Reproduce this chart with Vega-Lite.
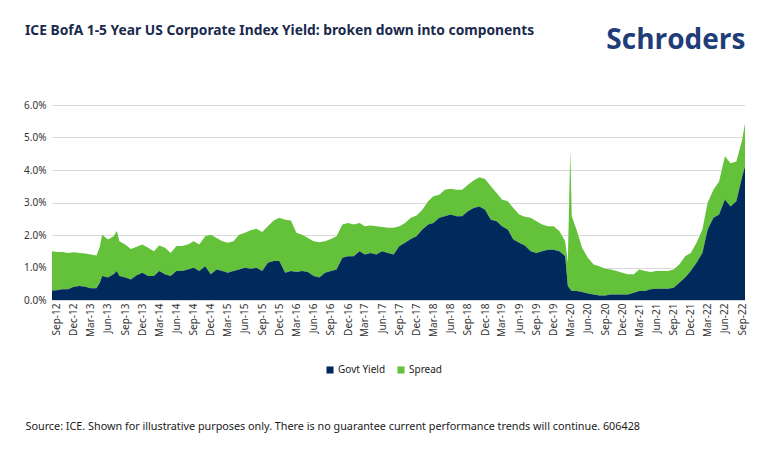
{
  "$schema": "https://vega.github.io/schema/vega-lite/v6.json",
  "width": 693,
  "height": 195,
  "autosize": {"type": "none"},
  "padding": {"left": 52, "top": 105, "right": 25, "bottom": 154},
  "background": "white",
  "config": {
    "view": {"stroke": null},
    "font": "Noto Sans"
  },
  "title": {
    "text": "ICE BofA 1-5 Year US Corporate Index Yield: broken down into components",
    "anchor": "start",
    "frame": "group",
    "dx": -27,
    "offset": 0,
    "dy": 12,
    "font": "Noto Sans",
    "fontSize": 13.8,
    "fontWeight": "bold",
    "color": "#1a2a4d"
  },
  "data": {
    "values": [
      {"d": "2012-08-07", "g": 0.29, "t": 1.50},
      {"d": "2012-09-01", "g": 0.30, "t": 1.48},
      {"d": "2012-10-01", "g": 0.33, "t": 1.48},
      {"d": "2012-11-01", "g": 0.33, "t": 1.45},
      {"d": "2012-12-01", "g": 0.41, "t": 1.47},
      {"d": "2013-01-01", "g": 0.43, "t": 1.45},
      {"d": "2013-02-01", "g": 0.41, "t": 1.43},
      {"d": "2013-03-01", "g": 0.36, "t": 1.40},
      {"d": "2013-04-01", "g": 0.36, "t": 1.37},
      {"d": "2013-04-19", "g": 0.53, "t": 1.65},
      {"d": "2013-05-01", "g": 0.74, "t": 2.01},
      {"d": "2013-06-01", "g": 0.69, "t": 1.86},
      {"d": "2013-07-01", "g": 0.79, "t": 1.96},
      {"d": "2013-07-19", "g": 0.89, "t": 2.12},
      {"d": "2013-08-01", "g": 0.74, "t": 1.81},
      {"d": "2013-09-01", "g": 0.69, "t": 1.71},
      {"d": "2013-10-01", "g": 0.63, "t": 1.57},
      {"d": "2013-11-01", "g": 0.76, "t": 1.64},
      {"d": "2013-12-01", "g": 0.84, "t": 1.71},
      {"d": "2014-01-01", "g": 0.74, "t": 1.61},
      {"d": "2014-02-01", "g": 0.74, "t": 1.50},
      {"d": "2014-03-01", "g": 0.89, "t": 1.68},
      {"d": "2014-04-01", "g": 0.79, "t": 1.61},
      {"d": "2014-05-01", "g": 0.74, "t": 1.45},
      {"d": "2014-06-01", "g": 0.89, "t": 1.66},
      {"d": "2014-07-01", "g": 0.89, "t": 1.66},
      {"d": "2014-08-01", "g": 0.94, "t": 1.71},
      {"d": "2014-09-01", "g": 0.99, "t": 1.81},
      {"d": "2014-10-01", "g": 0.89, "t": 1.71},
      {"d": "2014-11-01", "g": 1.04, "t": 1.96},
      {"d": "2014-12-01", "g": 0.79, "t": 2.01},
      {"d": "2015-01-01", "g": 0.94, "t": 1.91},
      {"d": "2015-02-01", "g": 0.89, "t": 1.81},
      {"d": "2015-03-01", "g": 0.84, "t": 1.76},
      {"d": "2015-04-01", "g": 0.89, "t": 1.81},
      {"d": "2015-05-01", "g": 0.94, "t": 2.01},
      {"d": "2015-06-01", "g": 0.99, "t": 2.07},
      {"d": "2015-07-01", "g": 0.96, "t": 2.15},
      {"d": "2015-08-01", "g": 0.99, "t": 2.19},
      {"d": "2015-09-01", "g": 0.89, "t": 2.09},
      {"d": "2015-10-01", "g": 1.15, "t": 2.27},
      {"d": "2015-11-01", "g": 1.20, "t": 2.45},
      {"d": "2015-12-01", "g": 1.20, "t": 2.53},
      {"d": "2016-01-01", "g": 0.84, "t": 2.47},
      {"d": "2016-02-01", "g": 0.89, "t": 2.45},
      {"d": "2016-03-01", "g": 0.86, "t": 2.07},
      {"d": "2016-04-01", "g": 0.89, "t": 2.01},
      {"d": "2016-05-01", "g": 0.86, "t": 1.91},
      {"d": "2016-06-01", "g": 0.74, "t": 1.81},
      {"d": "2016-07-01", "g": 0.69, "t": 1.78},
      {"d": "2016-08-01", "g": 0.84, "t": 1.81},
      {"d": "2016-09-01", "g": 0.89, "t": 1.88},
      {"d": "2016-10-01", "g": 0.94, "t": 1.96},
      {"d": "2016-11-01", "g": 1.30, "t": 2.32},
      {"d": "2016-12-01", "g": 1.35, "t": 2.37},
      {"d": "2017-01-01", "g": 1.35, "t": 2.32},
      {"d": "2017-02-01", "g": 1.50, "t": 2.37},
      {"d": "2017-03-01", "g": 1.40, "t": 2.27},
      {"d": "2017-04-01", "g": 1.45, "t": 2.29},
      {"d": "2017-05-01", "g": 1.40, "t": 2.27},
      {"d": "2017-06-01", "g": 1.50, "t": 2.25},
      {"d": "2017-07-01", "g": 1.45, "t": 2.22},
      {"d": "2017-08-01", "g": 1.40, "t": 2.22},
      {"d": "2017-09-01", "g": 1.66, "t": 2.27},
      {"d": "2017-10-01", "g": 1.76, "t": 2.37},
      {"d": "2017-11-01", "g": 1.88, "t": 2.53},
      {"d": "2017-12-01", "g": 1.96, "t": 2.60},
      {"d": "2018-01-01", "g": 2.17, "t": 2.78},
      {"d": "2018-02-01", "g": 2.32, "t": 3.04},
      {"d": "2018-03-01", "g": 2.37, "t": 3.19},
      {"d": "2018-04-01", "g": 2.53, "t": 3.24},
      {"d": "2018-05-01", "g": 2.58, "t": 3.39},
      {"d": "2018-06-01", "g": 2.63, "t": 3.42},
      {"d": "2018-07-01", "g": 2.58, "t": 3.39},
      {"d": "2018-08-01", "g": 2.58, "t": 3.39},
      {"d": "2018-09-01", "g": 2.73, "t": 3.55},
      {"d": "2018-10-01", "g": 2.83, "t": 3.68},
      {"d": "2018-11-01", "g": 2.88, "t": 3.78},
      {"d": "2018-12-01", "g": 2.78, "t": 3.72},
      {"d": "2019-01-01", "g": 2.47, "t": 3.50},
      {"d": "2019-02-01", "g": 2.42, "t": 3.29},
      {"d": "2019-03-01", "g": 2.27, "t": 3.09},
      {"d": "2019-04-01", "g": 2.17, "t": 3.04},
      {"d": "2019-05-01", "g": 1.86, "t": 2.83},
      {"d": "2019-06-01", "g": 1.76, "t": 2.63},
      {"d": "2019-07-01", "g": 1.68, "t": 2.56},
      {"d": "2019-08-01", "g": 1.50, "t": 2.53},
      {"d": "2019-09-01", "g": 1.45, "t": 2.42},
      {"d": "2019-10-01", "g": 1.50, "t": 2.32},
      {"d": "2019-11-01", "g": 1.55, "t": 2.27},
      {"d": "2019-12-01", "g": 1.55, "t": 2.27},
      {"d": "2020-01-01", "g": 1.50, "t": 2.12},
      {"d": "2020-02-01", "g": 1.35, "t": 1.81},
      {"d": "2020-02-15", "g": 0.43, "t": 1.15},
      {"d": "2020-02-28", "g": 0.33, "t": 4.62},
      {"d": "2020-03-07", "g": 0.28, "t": 2.58},
      {"d": "2020-04-01", "g": 0.28, "t": 2.17},
      {"d": "2020-05-01", "g": 0.25, "t": 1.61},
      {"d": "2020-06-01", "g": 0.20, "t": 1.30},
      {"d": "2020-07-01", "g": 0.17, "t": 1.09},
      {"d": "2020-08-01", "g": 0.14, "t": 1.04},
      {"d": "2020-09-01", "g": 0.14, "t": 0.96},
      {"d": "2020-10-01", "g": 0.17, "t": 0.94},
      {"d": "2020-11-01", "g": 0.17, "t": 0.89},
      {"d": "2020-12-01", "g": 0.17, "t": 0.84},
      {"d": "2021-01-01", "g": 0.17, "t": 0.79},
      {"d": "2021-02-01", "g": 0.22, "t": 0.79},
      {"d": "2021-03-01", "g": 0.28, "t": 0.94},
      {"d": "2021-04-01", "g": 0.28, "t": 0.89},
      {"d": "2021-05-01", "g": 0.33, "t": 0.86},
      {"d": "2021-06-01", "g": 0.35, "t": 0.89},
      {"d": "2021-07-01", "g": 0.35, "t": 0.89},
      {"d": "2021-08-01", "g": 0.35, "t": 0.89},
      {"d": "2021-09-01", "g": 0.38, "t": 0.94},
      {"d": "2021-10-01", "g": 0.53, "t": 1.09},
      {"d": "2021-11-01", "g": 0.69, "t": 1.35},
      {"d": "2021-12-01", "g": 0.89, "t": 1.45},
      {"d": "2022-01-01", "g": 1.15, "t": 1.76},
      {"d": "2022-02-01", "g": 1.45, "t": 2.17},
      {"d": "2022-03-01", "g": 2.17, "t": 2.99},
      {"d": "2022-04-01", "g": 2.53, "t": 3.39},
      {"d": "2022-05-01", "g": 2.63, "t": 3.65},
      {"d": "2022-06-01", "g": 3.09, "t": 4.42},
      {"d": "2022-07-01", "g": 2.88, "t": 4.21},
      {"d": "2022-08-01", "g": 3.04, "t": 4.26},
      {"d": "2022-09-01", "g": 3.80, "t": 4.93},
      {"d": "2022-09-16", "g": 4.11, "t": 5.44}
    ]
  },
  "encoding": {
    "x": {
      "field": "d",
      "type": "temporal",
      "scale": {
        "type": "utc",
        "domain": [
          {"year": 2012, "month": 8, "date": 7, "utc": true},
          {"year": 2022, "month": 9, "date": 16, "utc": true}
        ]
      },
      "axis": {
        "title": "Source: ICE. Shown for illustrative purposes only. There is no guarantee current performance trends will continue. 606428",
        "titleX": -27,
        "titleY": 129,
        "titleAlign": "left",
        "titleAnchor": null,
        "titleBaseline": "alphabetic",
        "titleFont": "Noto Sans",
        "titleFontSize": 10.8,
        "titleFontWeight": "normal",
        "titleColor": "#1a1a1a",
        "values": [
          {"year": 2012, "month": 9, "date": 1, "utc": true},
          {"year": 2012, "month": 12, "date": 1, "utc": true},
          {"year": 2013, "month": 3, "date": 1, "utc": true},
          {"year": 2013, "month": 6, "date": 1, "utc": true},
          {"year": 2013, "month": 9, "date": 1, "utc": true},
          {"year": 2013, "month": 12, "date": 1, "utc": true},
          {"year": 2014, "month": 3, "date": 1, "utc": true},
          {"year": 2014, "month": 6, "date": 1, "utc": true},
          {"year": 2014, "month": 9, "date": 1, "utc": true},
          {"year": 2014, "month": 12, "date": 1, "utc": true},
          {"year": 2015, "month": 3, "date": 1, "utc": true},
          {"year": 2015, "month": 6, "date": 1, "utc": true},
          {"year": 2015, "month": 9, "date": 1, "utc": true},
          {"year": 2015, "month": 12, "date": 1, "utc": true},
          {"year": 2016, "month": 3, "date": 1, "utc": true},
          {"year": 2016, "month": 6, "date": 1, "utc": true},
          {"year": 2016, "month": 9, "date": 1, "utc": true},
          {"year": 2016, "month": 12, "date": 1, "utc": true},
          {"year": 2017, "month": 3, "date": 1, "utc": true},
          {"year": 2017, "month": 6, "date": 1, "utc": true},
          {"year": 2017, "month": 9, "date": 1, "utc": true},
          {"year": 2017, "month": 12, "date": 1, "utc": true},
          {"year": 2018, "month": 3, "date": 1, "utc": true},
          {"year": 2018, "month": 6, "date": 1, "utc": true},
          {"year": 2018, "month": 9, "date": 1, "utc": true},
          {"year": 2018, "month": 12, "date": 1, "utc": true},
          {"year": 2019, "month": 3, "date": 1, "utc": true},
          {"year": 2019, "month": 6, "date": 1, "utc": true},
          {"year": 2019, "month": 9, "date": 1, "utc": true},
          {"year": 2019, "month": 12, "date": 1, "utc": true},
          {"year": 2020, "month": 3, "date": 1, "utc": true},
          {"year": 2020, "month": 6, "date": 1, "utc": true},
          {"year": 2020, "month": 9, "date": 1, "utc": true},
          {"year": 2020, "month": 12, "date": 1, "utc": true},
          {"year": 2021, "month": 3, "date": 1, "utc": true},
          {"year": 2021, "month": 6, "date": 1, "utc": true},
          {"year": 2021, "month": 9, "date": 1, "utc": true},
          {"year": 2021, "month": 12, "date": 1, "utc": true},
          {"year": 2022, "month": 3, "date": 1, "utc": true},
          {"year": 2022, "month": 6, "date": 1, "utc": true},
          {"year": 2022, "month": 9, "date": 1, "utc": true}
        ],
        "labelExpr": "utcFormat(datum.value, '%b-%y')",
        "labelAngle": -90,
        "labelAlign": "right",
        "labelBaseline": "middle",
        "labelPadding": 3,
        "labelFont": "Noto Sans",
        "labelFontSize": 10,
        "labelColor": "#333333",
        "labelOverlap": false,
        "ticks": false,
        "domain": false,
        "grid": false
      }
    },
    "y": {
      "field": "t",
      "type": "quantitative",
      "scale": {"domain": [0, 6], "nice": false},
      "axis": {
        "title": "Schroders",
        "titleAngle": 0,
        "titleX": 693,
        "titleY": -57,
        "titleAlign": "right",
        "titleBaseline": "alphabetic",
        "titleFont": "Open Sans",
        "titleFontSize": 28,
        "titleFontWeight": "bold",
        "titleColor": "#1f3d78",
        "values": [0, 1, 2, 3, 4, 5, 6],
        "labelExpr": "format(datum.value, '.1f') + '%'",
        "labelOverlap": false,
        "labelFont": "Noto Sans",
        "labelFontSize": 10,
        "labelColor": "#333333",
        "labelPadding": 6,
        "ticks": false,
        "domain": false,
        "grid": true,
        "gridColor": "#d9d9d9",
        "gridWidth": 1
      }
    }
  },
  "layer": [
    {
      "mark": {"type": "area", "strokeWidth": 0},
      "encoding": {
        "y2": {"field": "g"},
        "color": {
          "datum": "Spread",
          "type": "nominal",
          "scale": {"domain": ["Govt Yield", "Spread"], "range": ["#002a5c", "#63c13a"]},
          "legend": {
            "title": null,
            "orient": "none",
            "direction": "horizontal",
            "legendX": 273,
            "legendY": 260,
            "symbolType": "square",
            "symbolSize": 50,
            "symbolStrokeWidth": 0,
            "labelFont": "Noto Sans",
            "labelFontSize": 10,
            "labelColor": "#222222",
            "columnPadding": 10,
            "labelOffset": 3
          }
        }
      }
    },
    {
      "mark": {"type": "area", "strokeWidth": 0},
      "encoding": {
        "y": {"field": "g", "type": "quantitative"},
        "color": {"datum": "Govt Yield", "type": "nominal"}
      }
    }
  ]
}
